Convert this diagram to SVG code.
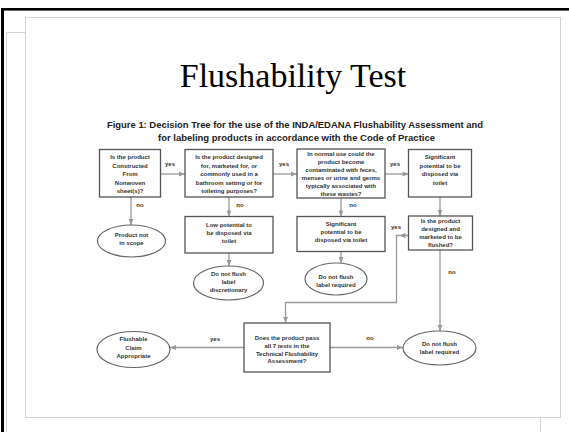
<svg xmlns="http://www.w3.org/2000/svg" width="569" height="432" viewBox="0 0 569 432">
<defs>
<style>
.gray{fill:none;stroke:#d2d2d2;stroke-width:1}
.box{fill:#fff;stroke:#555;stroke-width:1.3}
.ell{fill:#fff;stroke:#666;stroke-width:1.2}
.t{font-family:"Liberation Sans",Arial,sans-serif;font-weight:bold;font-size:6px;fill:#333;text-anchor:middle}
.cap{font-family:"Liberation Sans",Arial,sans-serif;font-weight:bold;font-size:9.6px;fill:#222;text-anchor:middle}
.conn{fill:none;stroke:#9a9a9a;stroke-width:1.3}
</style>
<marker id="ah" viewBox="0 0 10 10" refX="10" refY="5" markerWidth="7" markerHeight="6" orient="auto" markerUnits="userSpaceOnUse">
<path d="M0,1 L10,5 L0,9 z" fill="#999"/>
</marker>
</defs>
<rect width="569" height="432" fill="#fff"/>
<g id="frame">
<rect x="1" y="8" width="568" height="2.6" fill="#000"/>
<rect x="1" y="8" width="3" height="424" fill="#000"/>
<rect class="gray" x="25.5" y="17.5" width="535" height="400"/>
<polyline class="gray" points="6.5,432 6.5,32.5 25.5,32.5"/>
<line class="gray" x1="540.5" y1="417.5" x2="540.5" y2="432"/>
</g>
<text x="293" y="87" font-family="'Liberation Serif','Times New Roman',serif" font-size="34" fill="#000" text-anchor="middle">Flushability Test</text>
<g id="caption">
<text class="cap" x="295" y="128" textLength="376" lengthAdjust="spacingAndGlyphs">Figure 1:  Decision Tree for the use of the INDA/EDANA Flushability Assessment and</text>
<text class="cap" x="296.5" y="141" textLength="277" lengthAdjust="spacingAndGlyphs">for labeling products in accordance with the Code of Practice</text>
</g>
<g id="connectors">
<line class="conn" x1="161" y1="174" x2="185" y2="174" marker-end="url(#ah)"/>
<line class="conn" x1="273" y1="174" x2="297" y2="174" marker-end="url(#ah)"/>
<line class="conn" x1="385" y1="174" x2="408.5" y2="174" marker-end="url(#ah)"/>
<line class="conn" x1="131" y1="197" x2="131" y2="225" marker-end="url(#ah)"/>
<line class="conn" x1="229" y1="197" x2="229" y2="216.5" marker-end="url(#ah)"/>
<line class="conn" x1="229" y1="253" x2="229" y2="266" marker-end="url(#ah)"/>
<line class="conn" x1="341" y1="198" x2="341" y2="216.5" marker-end="url(#ah)"/>
<line class="conn" x1="341" y1="251.5" x2="341" y2="263" marker-end="url(#ah)"/>
<line class="conn" x1="440" y1="197" x2="440" y2="216" marker-end="url(#ah)"/>
<path class="conn" d="M408.5,235.5 H396.5 V302.5 H285.5 V323" marker-end="url(#ah)"/>
<path d="M399.5,235.5 L405.5,232.8 L405.5,238.2 z" fill="#999"/>
<line class="conn" x1="440" y1="250" x2="440" y2="331" marker-end="url(#ah)"/>
<line class="conn" x1="244" y1="347.5" x2="170" y2="347.5" marker-end="url(#ah)"/>
<line class="conn" x1="330" y1="347.5" x2="403" y2="347.5" marker-end="url(#ah)"/>
<text class="t" x="170" y="166">yes</text>
<text class="t" x="284" y="166">yes</text>
<text class="t" x="395" y="166">yes</text>
<text class="t" x="140" y="207">no</text>
<text class="t" x="240" y="207">no</text>
<text class="t" x="353" y="207">no</text>
<text class="t" x="396" y="229">yes</text>
<text class="t" x="452" y="274">no</text>
<text class="t" x="215" y="341">yes</text>
<text class="t" x="370" y="340">no</text>
</g>
<g id="n1">
<rect class="box" x="99.5" y="149.5" width="61" height="47.5"/>
<text class="t" x="130" y="159">Is the product</text>
<text class="t" x="130" y="167.5">Constructed</text>
<text class="t" x="130" y="176">From</text>
<text class="t" x="130" y="184.5">Nonwoven</text>
<text class="t" x="130" y="193">sheet(s)?</text>
</g>
<g id="n2">
<rect class="box" x="185" y="149.5" width="88" height="47.5"/>
<text class="t" x="229" y="159">Is the product designed</text>
<text class="t" x="229" y="167.5">for, marketed for, or</text>
<text class="t" x="229" y="176">commonly used in a</text>
<text class="t" x="229" y="184.5">bathroom setting or for</text>
<text class="t" x="229" y="193">toileting purposes?</text>
</g>
<g id="n3">
<rect class="box" x="297" y="149" width="88" height="49"/>
<text class="t" x="341" y="156">In normal use could the</text>
<text class="t" x="341" y="164">product become</text>
<text class="t" x="341" y="172">contaminated with feces,</text>
<text class="t" x="341" y="180">menses or urine and germs</text>
<text class="t" x="341" y="188">typically associated with</text>
<text class="t" x="341" y="195.5">these wastes?</text>
</g>
<g id="n4">
<rect class="box" x="408.5" y="149.5" width="63" height="47.5"/>
<text class="t" x="440" y="159">Significant</text>
<text class="t" x="440" y="167.5">potential to be</text>
<text class="t" x="440" y="176">disposed via</text>
<text class="t" x="440" y="184.5">toilet</text>
</g>
<g id="n5">
<ellipse class="ell" cx="131.5" cy="241" rx="34" ry="16"/>
<text class="t" x="131.5" y="236.5">Product not</text>
<text class="t" x="131.5" y="245">in scope</text>
</g>
<g id="n6">
<rect class="box" x="185" y="216.5" width="88" height="36.5"/>
<text class="t" x="229" y="226.5">Low potential to</text>
<text class="t" x="229" y="234.5">be disposed via</text>
<text class="t" x="229" y="243">toilet</text>
</g>
<g id="n7">
<ellipse class="ell" cx="228.5" cy="283" rx="35" ry="17"/>
<text class="t" x="228.5" y="276">Do not flush</text>
<text class="t" x="228.5" y="284">label</text>
<text class="t" x="228.5" y="292">discretionary</text>
</g>
<g id="n8">
<rect class="box" x="297" y="216.5" width="88" height="35"/>
<text class="t" x="341" y="225.5">Significant</text>
<text class="t" x="341" y="233.5">potential to be</text>
<text class="t" x="341" y="241.5">disposed via toilet</text>
</g>
<g id="n9">
<ellipse class="ell" cx="336" cy="279" rx="31" ry="16"/>
<text class="t" x="336" y="278.5">Do not flush</text>
<text class="t" x="336" y="287">label required</text>
</g>
<g id="n10">
<rect class="box" x="408.5" y="216" width="64" height="34"/>
<text class="t" x="440.5" y="223">Is the product</text>
<text class="t" x="440.5" y="231">designed and</text>
<text class="t" x="440.5" y="239">marketed to be</text>
<text class="t" x="440.5" y="247">flushed?</text>
</g>
<g id="n11">
<rect class="box" x="244" y="323" width="86" height="49"/>
<text class="t" x="287" y="340">Does the product pass</text>
<text class="t" x="287" y="348">all 7 tests in the</text>
<text class="t" x="287" y="355.5">Technical Flushability</text>
<text class="t" x="287" y="363">Assessment?</text>
</g>
<g id="n12">
<ellipse class="ell" cx="133.5" cy="349.5" rx="36.5" ry="18"/>
<text class="t" x="133.5" y="340.5">Flushable</text>
<text class="t" x="133.5" y="349.5">Claim</text>
<text class="t" x="133.5" y="358">Appropriate</text>
</g>
<g id="n13">
<ellipse class="ell" cx="439.5" cy="348" rx="36.5" ry="17"/>
<text class="t" x="439.5" y="345.5">Do not flush</text>
<text class="t" x="439.5" y="354">label required</text>
</g>
</svg>
